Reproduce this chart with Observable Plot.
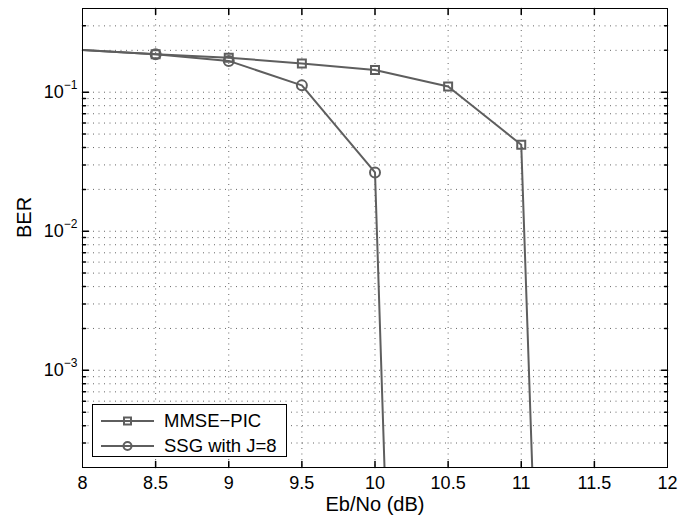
<!DOCTYPE html>
<html><head><meta charset="utf-8">
<script src="https://cdn.jsdelivr.net/npm/d3@7"></script>
<script src="https://cdn.jsdelivr.net/npm/@observablehq/plot@0.6"></script>
<style>
body{margin:0;background:#fff;}
#chart{position:relative;width:696px;height:520px;font-family:"Liberation Sans",Arial,Helvetica,sans-serif;}
#legend{position:absolute;left:92px;top:404px;width:195px;height:53px;border:1px solid #000;background:#fff;box-sizing:border-box;}
.row{position:absolute;left:0;height:24px;display:flex;align-items:center;}
.row span{font-size:18.5px;color:#000;margin-left:5px;white-space:nowrap;}
</style></head><body><div id="chart"><div id="legend"></div></div>
<script>
// ---- data ----
const ebnoMmse = [8, 8.5, 9, 9.5, 10, 10.5, 11, 11.5];
const berMmse  = [0.201, 0.1875, 0.177, 0.161, 0.1445, 0.110, 0.0419, 1.4e-17];
const ebnoSsg  = [8, 8.5, 9, 9.5, 10, 10.5];
const berSsg   = [0.201, 0.1875, 0.168, 0.112, 0.0265, 1.3e-18];
const seriesNames = ["MMSE\u2212PIC", "SSG with J=8"];
const seriesSymbols = ["square", "circle"];
const xTicks = [8, 8.5, 9, 9.5, 10, 10.5, 11, 11.5, 12];
const xTickLabels = ["8", "8.5", "9", "9.5", "10", "10.5", "11", "11.5", "12"];
const xGrid = [8.5, 9, 9.5, 10, 10.5, 11, 11.5];
const yMajor = [1e-3, 1e-2, 1e-1];
const yTickExponents = ["\u22123", "\u22122", "\u22121"];
const yMinor = [3e-4, 4e-4, 5e-4, 6e-4, 7e-4, 8e-4, 9e-4,
                2e-3, 3e-3, 4e-3, 5e-3, 6e-3, 7e-3, 8e-3, 9e-3,
                2e-2, 3e-2, 4e-2, 5e-2, 6e-2, 7e-2, 8e-2, 9e-2,
                0.2, 0.3];
const xDomain = [8, 12];
const yDomain = [2e-4, 0.4];

const lineColor = "#5e5e5e";
const gridColor = "#666";
const tickShape = {draw(ctx, l) { ctx.moveTo(0, 0); ctx.lineTo(0, -l); }};

const mmseRows = ebnoMmse.map((x, i) => ({x, y: berMmse[i]}));
const ssgRows = ebnoSsg.map((x, i) => ({x, y: berSsg[i]}));
const inside = r => r.x > xDomain[0] && r.x < xDomain[1] && r.y >= yDomain[0];

const plot = Plot.plot({
  width: 696, height: 520,
  marginLeft: 82, marginRight: 29, marginTop: 8, marginBottom: 53,
  style: {fontFamily: '"Liberation Sans", Arial, Helvetica, sans-serif', fontSize: "18px", color: "#000", background: "#fff"},
  x: {domain: xDomain},
  y: {type: "log", domain: yDomain},
  marks: [
    Plot.ruleY(yMinor.concat(yMajor), {stroke: gridColor, strokeDasharray: "1,4.5"}),
    Plot.ruleX(xGrid, {stroke: gridColor, strokeDasharray: "1,4.5"}),
    // inward ticks
    Plot.vector(yMajor, {y: d => d, frameAnchor: "left", anchor: "start", rotate: 90, length: 6, shape: tickShape, stroke: "#000"}),
    Plot.vector(yMajor, {y: d => d, frameAnchor: "right", anchor: "start", rotate: -90, length: 6, shape: tickShape, stroke: "#000"}),
    Plot.vector(yMinor, {y: d => d, frameAnchor: "left", anchor: "start", rotate: 90, length: 3, shape: tickShape, stroke: "#000"}),
    Plot.vector(yMinor, {y: d => d, frameAnchor: "right", anchor: "start", rotate: -90, length: 3, shape: tickShape, stroke: "#000"}),
    Plot.vector(xGrid, {x: d => d, frameAnchor: "bottom", anchor: "start", rotate: 0, length: 6, shape: tickShape, stroke: "#000"}),
    Plot.vector(xGrid, {x: d => d, frameAnchor: "top", anchor: "start", rotate: 180, length: 6, shape: tickShape, stroke: "#000"}),
    Plot.line(mmseRows, {x: "x", y: "y", stroke: lineColor, strokeWidth: 2, clip: true}),
    Plot.line(ssgRows, {x: "x", y: "y", stroke: lineColor, strokeWidth: 2, clip: true}),
    Plot.dot(mmseRows.filter(inside), {x: "x", y: "y", symbol: "square", r: 4.5, stroke: lineColor, strokeWidth: 2, fill: "none"}),
    Plot.dot(ssgRows.filter(inside), {x: "x", y: "y", symbol: "circle", r: 5, stroke: lineColor, strokeWidth: 2, fill: "none"}),
    Plot.frame({stroke: "#000", strokeWidth: 1}),
    Plot.axisX(xTicks, {tickSize: 0, tickPadding: 9, tickFormat: (d) => xTickLabels[xTicks.indexOf(d)], label: null, fontSize: 18}),
    Plot.axisY(yMajor, {tickSize: 0, tickPadding: 5, tickFormat: () => "10", label: null, fontSize: 18}),
    Plot.text(["Eb/No (dB)"], {frameAnchor: "bottom", dy: 43, fontSize: 20}),
    Plot.text(["BER"], {frameAnchor: "left", dx: -58, rotate: -90, fontSize: 20})
  ]
});

// superscript exponents on y tick labels
d3.select(plot).selectAll('g[aria-label="y-axis tick label"] text').each(function(d, i) {
  d3.select(this).append("tspan").attr("dy", -9).attr("font-size", 12).text(yTickExponents[i]);
});

document.getElementById("chart").prepend(plot);

// legend
const legend = d3.select("#legend");
seriesNames.forEach((name, i) => {
  const row = legend.append("div").attr("class", "row").style("top", (i === 0 ? 4 : 29) + "px");
  const svg = row.append("svg").attr("width", 66).attr("height", 24);
  svg.append("line").attr("x1", 8).attr("x2", 61).attr("y1", 12).attr("y2", 12)
     .attr("stroke", lineColor).attr("stroke-width", 2);
  if (seriesSymbols[i] === "square") {
    svg.append("rect").attr("x", 31).attr("y", 8.5).attr("width", 7).attr("height", 7)
       .attr("fill", "none").attr("stroke", lineColor).attr("stroke-width", 2);
  } else {
    svg.append("circle").attr("cx", 34.5).attr("cy", 12).attr("r", 4)
       .attr("fill", "none").attr("stroke", lineColor).attr("stroke-width", 2);
  }
  row.append("span").text(name);
});
</script>
</body></html>
